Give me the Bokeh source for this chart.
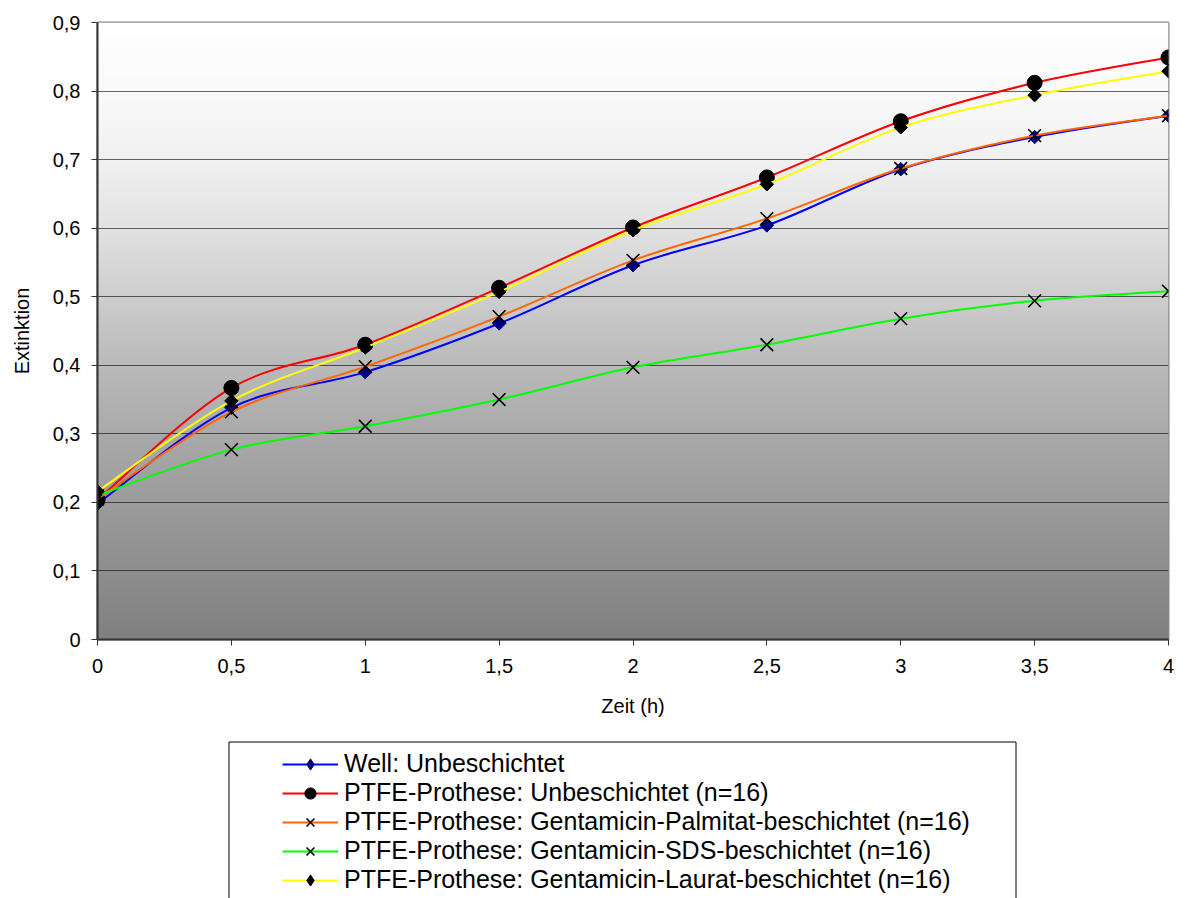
import numpy as np
from bokeh.plotting import figure
from bokeh.layouts import column
from bokeh.models import (Range1d, FixedTicker, CustomJSTickFormatter, Legend, LegendItem,
                          ColumnDataSource)
from bokeh.embed import file_html
from bokeh.resources import INLINE

# Messzeitpunkte (h) und mittlere Extinktion je Versuchsreihe
zeit = [0, 0.5, 1, 1.5, 2, 2.5, 3, 3.5, 4]
well_unbeschichtet = [0.198, 0.338, 0.390, 0.461, 0.546, 0.604, 0.686, 0.733, 0.764]
ptfe_unbeschichtet = [0.204, 0.367, 0.430, 0.513, 0.601, 0.674, 0.756, 0.812, 0.849]
ptfe_palmitat = [0.205, 0.332, 0.398, 0.471, 0.553, 0.614, 0.687, 0.735, 0.764]
ptfe_sds = [0.210, 0.277, 0.311, 0.350, 0.397, 0.430, 0.468, 0.494, 0.508]
ptfe_laurat = [0.216, 0.348, 0.426, 0.507, 0.597, 0.664, 0.747, 0.794, 0.829]

labels = [
    "Well: Unbeschichtet",
    "PTFE-Prothese: Unbeschichtet (n=16)",
    "PTFE-Prothese: Gentamicin-Palmitat-beschichtet (n=16)",
    "PTFE-Prothese: Gentamicin-SDS-beschichtet (n=16)",
    "PTFE-Prothese: Gentamicin-Laurat-beschichtet (n=16)",
]
x_ticks = [0, 0.5, 1, 1.5, 2, 2.5, 3, 3.5, 4]
y_ticks = [0, 0.1, 0.2, 0.3, 0.4, 0.5, 0.6, 0.7, 0.8, 0.9]
grid_ticks = [0.1, 0.2, 0.3, 0.4, 0.5, 0.6, 0.7, 0.8]

FONT = "Liberation Sans"

series = [
    (well_unbeschichtet, "#0000FF", "diamond", "#000080"),
    (ptfe_unbeschichtet, "#FF0000", "circle", "black"),
    (ptfe_palmitat, "#FF6600", "x", "black"),
    (ptfe_sds, "#00FF00", "x", "black"),
    (ptfe_laurat, "#FFFF00", "diamond", "black"),
]


def smooth_segments(xs, ys):
    """Cubic Bezier segments through the points (smoothed line)."""
    x = np.asarray(xs, float)
    y = np.asarray(ys, float)
    xp = np.concatenate([[x[0]], x, [x[-1]]])
    yp = np.concatenate([[y[0]], y, [y[-1]]])
    n = len(x)
    return dict(
        x0=x[:-1], y0=y[:-1], x1=x[1:], y1=y[1:],
        cx0=x[:-1] + (xp[2:n + 1] - xp[0:n - 1]) / 6.0,
        cy0=y[:-1] + (yp[2:n + 1] - yp[0:n - 1]) / 6.0,
        cx1=x[1:] - (xp[3:n + 2] - xp[1:n]) / 6.0,
        cy1=y[1:] - (yp[3:n + 2] - yp[1:n]) / 6.0,
    )


LEFT, RIGHT = 97, 27
CHART_H = 730
p = figure(width=1195, height=CHART_H, output_backend="svg", toolbar_location=None,
           x_range=Range1d(0, 4), y_range=Range1d(0, 0.9),
           min_border_left=LEFT, min_border_right=RIGHT, min_border_top=22,
           min_border_bottom=CHART_H - 639,
           background_fill_color="white", border_fill_color="white")

# gradient background of the plot area (white at the top, grey at the bottom)
rows = 617
yy = np.linspace(0.0, 0.9, rows)
shade = np.interp(yy, [0.0, 0.1, 0.2, 0.3, 0.4, 0.5, 0.6, 0.7, 0.8, 0.9],
                  [128, 142, 156, 170, 186, 206, 226, 241, 250, 255]).astype(np.uint8)
bg = np.empty((rows, 1), dtype=np.uint32)
bgv = bg.view(dtype=np.uint8).reshape((rows, 1, 4))
bgv[:, 0, 0] = shade
bgv[:, 0, 1] = shade
bgv[:, 0, 2] = shade
bgv[:, 0, 3] = 255
p.image_rgba(image=[bg], x=0, y=0, dw=4, dh=0.9, level="image")

p.outline_line_color = "#8c8c8c"
p.outline_line_width = 2

p.xgrid.visible = False
p.ygrid.ticker = FixedTicker(ticks=grid_ticks)
p.ygrid.grid_line_color = "black"
p.ygrid.grid_line_alpha = 0.6
p.ygrid.grid_line_width = 1

fmt = CustomJSTickFormatter(code="return (Math.round(tick*10)/10).toString().replace('.', ',');")
p.xaxis.ticker = FixedTicker(ticks=x_ticks)
p.yaxis.ticker = FixedTicker(ticks=y_ticks)
for ax in (p.xaxis[0], p.yaxis[0]):
    ax.formatter = fmt
    ax.axis_line_color = "#333333"
    ax.axis_line_width = 2
    ax.major_tick_line_color = "#333333"
    ax.major_tick_line_width = 1
    ax.major_tick_out = 6
    ax.major_tick_in = 0
    ax.minor_tick_line_color = None
    ax.major_label_text_font = FONT
    ax.major_label_text_font_size = "20px"
    ax.major_label_text_color = "black"
    ax.axis_label_text_font = FONT
    ax.axis_label_text_font_size = "20px"
    ax.axis_label_text_font_style = "normal"
    ax.axis_label_text_color = "black"

p.xaxis.axis_label = "Zeit (h)"
p.xaxis.major_label_standoff = 13
p.xaxis.axis_label_standoff = 19
p.yaxis.axis_label = "Extinktion"
p.yaxis.major_label_standoff = 11
p.yaxis.axis_label_standoff = 17

for vals, lcol, marker, mcol in series:
    p.bezier(source=ColumnDataSource(smooth_segments(zeit, vals)),
             x0="x0", y0="y0", x1="x1", y1="y1",
             cx0="cx0", cy0="cy0", cx1="cx1", cy1="cy1",
             line_color=lcol, line_width=2)
    if marker == "diamond":
        p.scatter(zeit, vals, marker="square", angle=np.pi / 4, size=9.5,
                  fill_color=mcol, line_color=mcol)
    elif marker == "circle":
        p.scatter(zeit, vals, marker="circle", size=15, fill_color=mcol, line_color=mcol)
    else:
        p.scatter(zeit, vals, marker="x", size=18, line_color=mcol, line_width=1.6)

# legend panel below the chart; its data coordinates equal page pixels
LEG_H = 898 - CHART_H
q = figure(width=1195, height=LEG_H, output_backend="svg", toolbar_location=None,
           x_range=Range1d(LEFT, 1195 - RIGHT), y_range=Range1d(898, CHART_H),
           x_axis_type=None, y_axis_type=None,
           min_border_left=LEFT, min_border_right=RIGHT, min_border_top=0, min_border_bottom=0,
           background_fill_color="white", border_fill_color="white",
           outline_line_color=None)
q.quad(left=[228.5], right=[1015.5], top=[741.5], bottom=[920],
       fill_color="white", line_color="black", line_width=1)

# sample glyphs for the legend (one point far outside the visible area)
offscreen = ColumnDataSource(data=dict(x=[-5000], y=[-5000]))
items = []
for (vals, lcol, marker, mcol), lab in zip(series, labels):
    leg_line = q.line(x="x", y="y", source=offscreen, line_color=lcol, line_width=2)
    if marker == "x":
        leg_mark = q.scatter(x="x", y="y", source=offscreen, marker="x", line_color=mcol,
                             line_width=1.6)
    else:
        leg_mark = q.scatter(x="x", y="y", source=offscreen, marker=marker,
                             fill_color=mcol, line_color=mcol)
    items.append(LegendItem(label=lab, renderers=[leg_line, leg_mark]))

legend = Legend(items=items, location=(282 - LEFT, 4), padding=0, margin=0,
                border_line_color=None, background_fill_alpha=0,
                glyph_width=56, glyph_height=28, label_height=28, label_standoff=6,
                spacing=0, label_text_font=FONT, label_text_font_size="25px",
                label_text_color="black")
q.add_layout(legend, "center")

page = column(p, q, spacing=0)
open("out.html", "w").write(file_html(page, INLINE))
